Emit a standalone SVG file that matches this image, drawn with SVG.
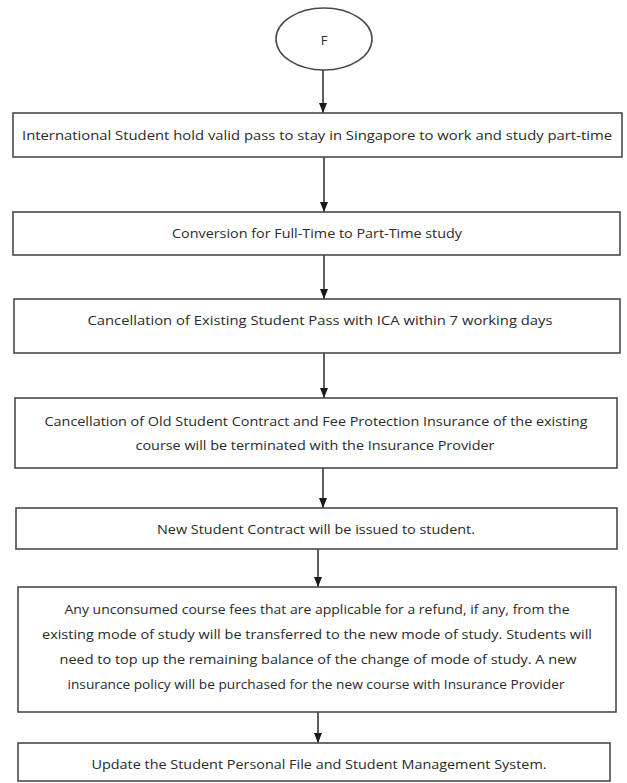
<svg xmlns="http://www.w3.org/2000/svg" width="627" height="783" viewBox="0 0 627 783">
<style>
.box{fill:#fff;stroke:#4a4a4a;stroke-width:1.6}
.t{font-family:"Open Sans","Liberation Sans",sans-serif;font-size:13px;fill:#2a2a2a;text-anchor:middle;dominant-baseline:central}
.c{stroke:#1a1a1a;stroke-width:1.4;fill:none;marker-end:url(#ah)}
</style>
<defs>
<marker id="ah" viewBox="0 0 10 8" refX="10" refY="4" markerWidth="10" markerHeight="8" markerUnits="userSpaceOnUse" orient="auto">
<path d="M0,0 L10,4 L0,8 Z" fill="#1a1a1a"/>
</marker>
</defs>
<rect width="627" height="783" fill="#fff"/>
<g id="connectors">
<line class="c" x1="323" y1="70" x2="323" y2="113"/>
<line class="c" x1="324" y1="157" x2="324" y2="212"/>
<line class="c" x1="324" y1="255" x2="324" y2="299"/>
<line class="c" x1="324" y1="353" x2="324" y2="398"/>
<line class="c" x1="323" y1="468" x2="323" y2="508"/>
<line class="c" x1="318" y1="549" x2="318" y2="587"/>
<line class="c" x1="318" y1="712" x2="318" y2="743"/>
</g>
<g id="start">
<ellipse class="box" cx="324" cy="39" rx="48" ry="31"/>
<text class="t" x="324" y="40">F</text>
</g>
<g id="n1">
<rect class="box" x="13" y="113" width="609" height="44"/>
<text class="t" x="317" y="135" textLength="590" lengthAdjust="spacingAndGlyphs">International Student hold valid pass to stay in Singapore to work and study part-time</text>
</g>
<g id="n2">
<rect class="box" x="13" y="212" width="607" height="43"/>
<text class="t" x="317" y="233" textLength="290" lengthAdjust="spacingAndGlyphs">Conversion for Full-Time to Part-Time study</text>
</g>
<g id="n3">
<rect class="box" x="14" y="299" width="606" height="54"/>
<text class="t" x="320" y="320" textLength="465" lengthAdjust="spacingAndGlyphs">Cancellation of Existing Student Pass with ICA within 7 working days</text>
</g>
<g id="n4">
<rect class="box" x="15" y="398" width="602" height="70"/>
<text class="t" x="316" y="421" textLength="543" lengthAdjust="spacingAndGlyphs">Cancellation of Old Student Contract and Fee Protection Insurance of the existing</text>
<text class="t" x="315" y="445" textLength="359" lengthAdjust="spacingAndGlyphs">course will be terminated with the Insurance Provider</text>
</g>
<g id="n5">
<rect class="box" x="16" y="508" width="601" height="41"/>
<text class="t" x="316" y="529" textLength="318" lengthAdjust="spacingAndGlyphs">New Student Contract will be issued to student.</text>
</g>
<g id="n6">
<rect class="box" x="18" y="587" width="598" height="125"/>
<text class="t" x="317" y="609" textLength="505" lengthAdjust="spacingAndGlyphs">Any unconsumed course fees that are applicable for a refund, if any, from the</text>
<text class="t" x="317" y="634" textLength="550" lengthAdjust="spacingAndGlyphs">existing mode of study will be transferred to the new mode of study. Students will</text>
<text class="t" x="318" y="659" textLength="517" lengthAdjust="spacingAndGlyphs">need to top up the remaining balance of the change of mode of study. A new</text>
<text class="t" x="316" y="684" textLength="497" lengthAdjust="spacingAndGlyphs">insurance policy will be purchased for the new course with Insurance Provider</text>
</g>
<g id="n7">
<rect class="box" x="18" y="743" width="592" height="38"/>
<text class="t" x="319" y="764" textLength="455" lengthAdjust="spacingAndGlyphs">Update the Student Personal File and Student Management System.</text>
</g>
</svg>
